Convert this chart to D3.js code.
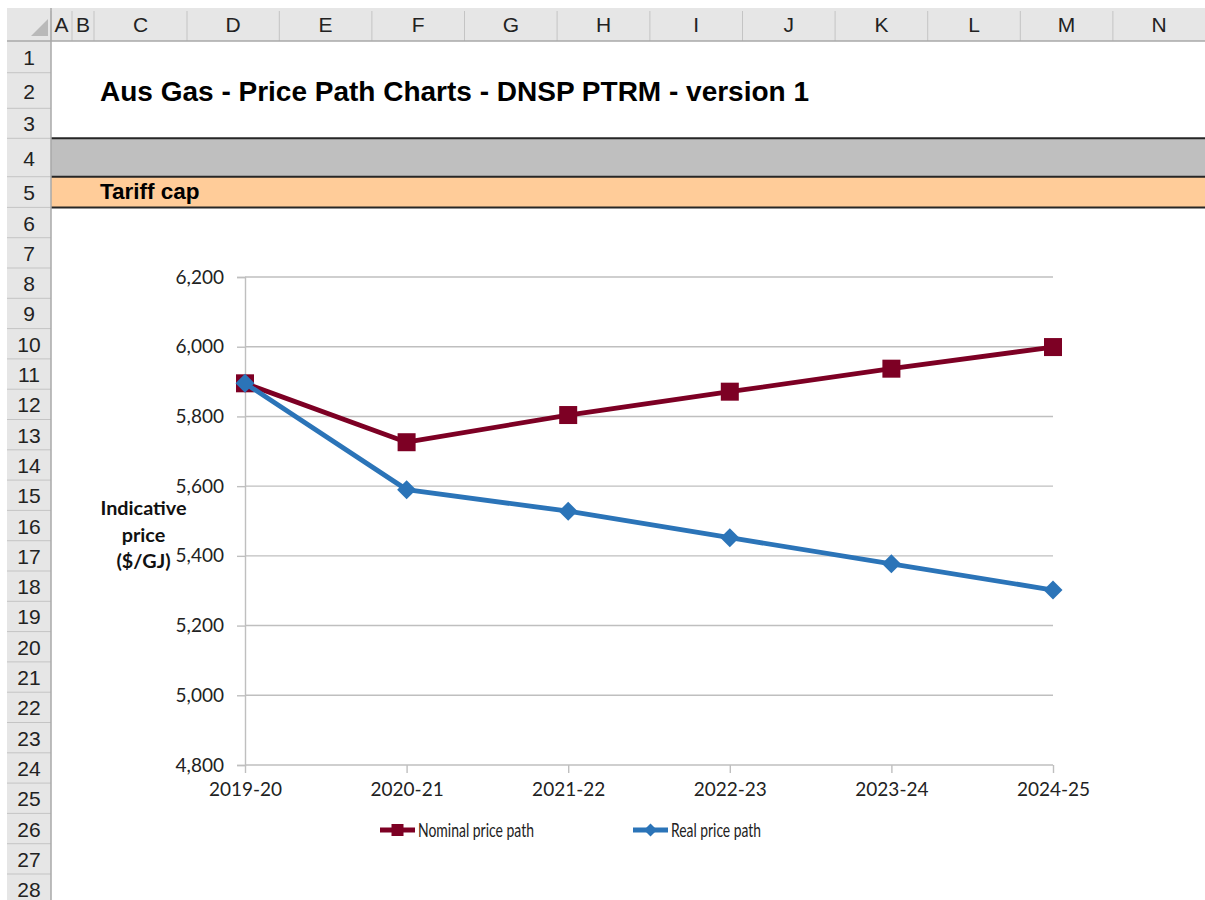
<!DOCTYPE html>
<html>
<head>
<meta charset="utf-8">
<script src="https://cdn.jsdelivr.net/npm/d3@7"></script>
<style>
  html, body { margin: 0; padding: 0; background: #fff; }
  svg { display: block; }
</style>
</head>
<body>
<svg id="chart" width="1205" height="900"></svg>
<script>
// ---------- data ----------
const categories = ["2019-20", "2020-21", "2021-22", "2022-23", "2023-24", "2024-25"];
const nominalPrice = [5895, 5726, 5804, 5871, 5937, 5999];
const realPrice = [5895, 5590, 5528, 5452, 5377, 5302];
const yTicks = [4800, 5000, 5200, 5400, 5600, 5800, 6000, 6200];
const seriesNames = ["Nominal price path", "Real price path"];
const titleText = "Aus Gas - Price Path Charts - DNSP PTRM - version 1";
const sectionText = "Tariff cap";
const yTitleLines = ["Indicative", "price", "($/GJ)"];
const colLetters = ["A","B","C","D","E","F","G","H","I","J","K","L","M","N"];
const rowNumbers = d3.range(1, 29);

// ---------- layout ----------
const svg = d3.select("#chart");
const W = 1205, H = 900;
const headerTop = 8, headerBottom = 41;
const rowHdrLeft = 7, rowHdrRight = 51;
const colWidthsPx = [21, 22, 93, 92.3, 92.6, 92.6, 92.6, 92.8, 92.6, 92.6, 92.6, 92.6, 92.6, 92.6];
const rowHeightsPx = [31.7, 35.6, 30, 38.4, 30.7].concat(d3.range(23).map(() => 30.3));
const sheetFont = "'Liberation Sans', Arial, sans-serif";
const chartFont = "Lato, 'Open Sans', sans-serif";

const colEdges = [rowHdrRight];
colWidthsPx.forEach(w => colEdges.push(colEdges[colEdges.length - 1] + w));
const rowEdges = [headerBottom];
rowHeightsPx.forEach(h => rowEdges.push(rowEdges[rowEdges.length - 1] + h));

svg.append("rect").attr("width", W).attr("height", H).attr("fill", "#fff");

// column header band
svg.append("rect").attr("x", rowHdrLeft).attr("y", headerTop)
  .attr("width", W - rowHdrLeft).attr("height", headerBottom - headerTop).attr("fill", "#e6e6e6");
// row header band
svg.append("rect").attr("x", rowHdrLeft).attr("y", headerBottom)
  .attr("width", rowHdrRight - rowHdrLeft).attr("height", H - headerBottom).attr("fill", "#e6e6e6");

// corner triangle
svg.append("path").attr("d", `M48,19 L48,36 L31,36 Z`).attr("fill", "#b9b9b9");

// column separators & letters
const colG = svg.append("g");
colLetters.forEach((c, i) => {
  const x0 = colEdges[i], x1 = colEdges[i + 1];
  colG.append("line").attr("x1", x1).attr("x2", x1).attr("y1", headerTop + 3).attr("y2", headerBottom)
    .attr("stroke", "#c4c4c4").attr("stroke-width", 1);
  colG.append("text").attr("x", (x0 + x1) / 2).attr("y", 32)
    .attr("text-anchor", "middle").attr("font-family", sheetFont).attr("font-size", 21)
    .attr("fill", "#222").text(c);
});
colG.append("line").attr("x1", rowHdrRight).attr("x2", rowHdrRight).attr("y1", headerTop + 3).attr("y2", headerBottom)
  .attr("stroke", "#c4c4c4");
// header bottom border
svg.append("line").attr("x1", rowHdrLeft).attr("x2", W).attr("y1", headerBottom).attr("y2", headerBottom)
  .attr("stroke", "#a9a9a9").attr("stroke-width", 1.5);

// section bands (rows 4 and 5)
svg.append("rect").attr("x", rowHdrRight).attr("y", rowEdges[3]).attr("width", W - rowHdrRight)
  .attr("height", rowEdges[4] - rowEdges[3]).attr("fill", "#bfbfbf");
svg.append("rect").attr("x", rowHdrRight).attr("y", rowEdges[4]).attr("width", W - rowHdrRight)
  .attr("height", rowEdges[5] - rowEdges[4]).attr("fill", "#ffcc99");
[rowEdges[3], rowEdges[4], rowEdges[5]].forEach(y => {
  svg.append("line").attr("x1", rowHdrRight).attr("x2", W).attr("y1", y).attr("y2", y)
    .attr("stroke", "#262626").attr("stroke-width", 2);
});

// row separators & numbers
const rowG = svg.append("g");
rowNumbers.forEach((r, i) => {
  const y0 = rowEdges[i], y1 = rowEdges[i + 1];
  rowG.append("line").attr("x1", rowHdrLeft).attr("x2", rowHdrRight).attr("y1", y1).attr("y2", y1)
    .attr("stroke", "#c4c4c4").attr("stroke-width", 1);
  rowG.append("text").attr("x", 29).attr("y", (y0 + y1) / 2 + 8)
    .attr("text-anchor", "middle").attr("font-family", sheetFont).attr("font-size", 21)
    .attr("fill", "#222").text(r);
});
svg.append("line").attr("x1", rowHdrRight).attr("x2", rowHdrRight).attr("y1", headerTop).attr("y2", H)
  .attr("stroke", "#a9a9a9").attr("stroke-width", 1.5);

// title and section label
svg.append("text").attr("x", 100).attr("y", 101).attr("font-family", sheetFont)
  .attr("font-weight", "bold").attr("font-size", 28).attr("fill", "#000").text(titleText);
svg.append("text").attr("x", 100).attr("y", 199).attr("font-family", sheetFont)
  .attr("font-weight", "bold").attr("font-size", 22.5).attr("fill", "#000").text(sectionText);

// ---------- chart ----------
const x = d3.scalePoint().domain(categories).range([245, 1053]).padding(0);
const y = d3.scaleLinear().domain([4800, 6200]).range([765, 277]);

const gridColor = "#bfbfbf";
const chart = svg.append("g");

// gridlines
chart.append("g").selectAll("line").data(yTicks.filter(t => t !== 4800)).join("line")
  .attr("x1", x.range()[0]).attr("x2", x.range()[1])
  .attr("y1", d => y(d)).attr("y2", d => y(d))
  .attr("stroke", gridColor).attr("stroke-width", 1.4);

// y axis
const yAxis = chart.append("g").attr("transform", `translate(${x.range()[0]},0)`)
  .call(d3.axisLeft(y).tickValues(yTicks).tickSize(8).tickPadding(13).tickFormat(d3.format(",")));
yAxis.select(".domain").attr("stroke", gridColor).attr("stroke-width", 1.4);
yAxis.selectAll(".tick line").attr("stroke", gridColor).attr("stroke-width", 1.4);
yAxis.selectAll(".tick text").attr("font-family", chartFont).attr("font-size", 19).attr("fill", "#222");

// x axis
const xAxis = chart.append("g").attr("transform", `translate(0,${y(4800)})`)
  .call(d3.axisBottom(x).tickSize(8).tickPadding(10));
xAxis.select(".domain").attr("stroke", gridColor).attr("stroke-width", 1.4).attr("d", `M${x.range()[0]},0H${x.range()[1]}`);
xAxis.selectAll(".tick line").attr("stroke", gridColor).attr("stroke-width", 1.4);
xAxis.selectAll(".tick text").attr("font-family", chartFont).attr("font-size", 19).attr("fill", "#222");

// y title
const yTitle = chart.append("text").attr("text-anchor", "middle").attr("font-family", chartFont)
  .attr("font-weight", "bold").attr("font-size", 19.8).attr("fill", "#111");
yTitleLines.forEach((t, i) => {
  yTitle.append("tspan").attr("x", 143.5).attr("y", 515 + i * 26.5).text(t);
});

const nomColor = "#7d0024";
const realColor = "#2b74b8";
const line = d3.line().x((d, i) => x(categories[i])).y(d => y(d));

// nominal series
chart.append("path").datum(nominalPrice).attr("d", line).attr("fill", "none")
  .attr("stroke", nomColor).attr("stroke-width", 4.8).attr("stroke-linejoin", "round");
chart.append("g").selectAll("rect").data(nominalPrice).join("rect")
  .attr("x", (d, i) => x(categories[i]) - 9).attr("y", d => y(d) - 9)
  .attr("width", 18).attr("height", 18).attr("fill", nomColor);

// real series
chart.append("path").datum(realPrice).attr("d", line).attr("fill", "none")
  .attr("stroke", realColor).attr("stroke-width", 4.8).attr("stroke-linejoin", "round");
const diamond = r => `M0,${-r}L${r},0L0,${r}L${-r},0Z`;
chart.append("g").selectAll("path").data(realPrice).join("path")
  .attr("transform", (d, i) => `translate(${x(categories[i])},${y(d)})`)
  .attr("d", diamond(9.5)).attr("fill", realColor);

// legend
const legend = chart.append("g");
const legendItems = [
  { name: seriesNames[0], color: nomColor, marker: "square", x0: 380, textW: 116 },
  { name: seriesNames[1], color: realColor, marker: "diamond", x0: 633, textW: 90 }
];
legendItems.forEach(it => {
  const ly = 830;
  legend.append("line").attr("x1", it.x0).attr("x2", it.x0 + 35).attr("y1", ly).attr("y2", ly)
    .attr("stroke", it.color).attr("stroke-width", 4.8);
  if (it.marker === "square") {
    legend.append("rect").attr("x", it.x0 + 17.5 - 6).attr("y", ly - 6).attr("width", 12).attr("height", 12)
      .attr("fill", it.color);
  } else {
    legend.append("path").attr("transform", `translate(${it.x0 + 17.5},${ly})`).attr("d", diamond(6.5))
      .attr("fill", it.color);
  }
  legend.append("text").attr("x", it.x0 + 38).attr("y", ly + 7).attr("font-family", chartFont)
    .attr("font-size", 20).attr("fill", "#222")
    .attr("textLength", it.textW).attr("lengthAdjust", "spacingAndGlyphs").text(it.name);
});
</script>
</body>
</html>
